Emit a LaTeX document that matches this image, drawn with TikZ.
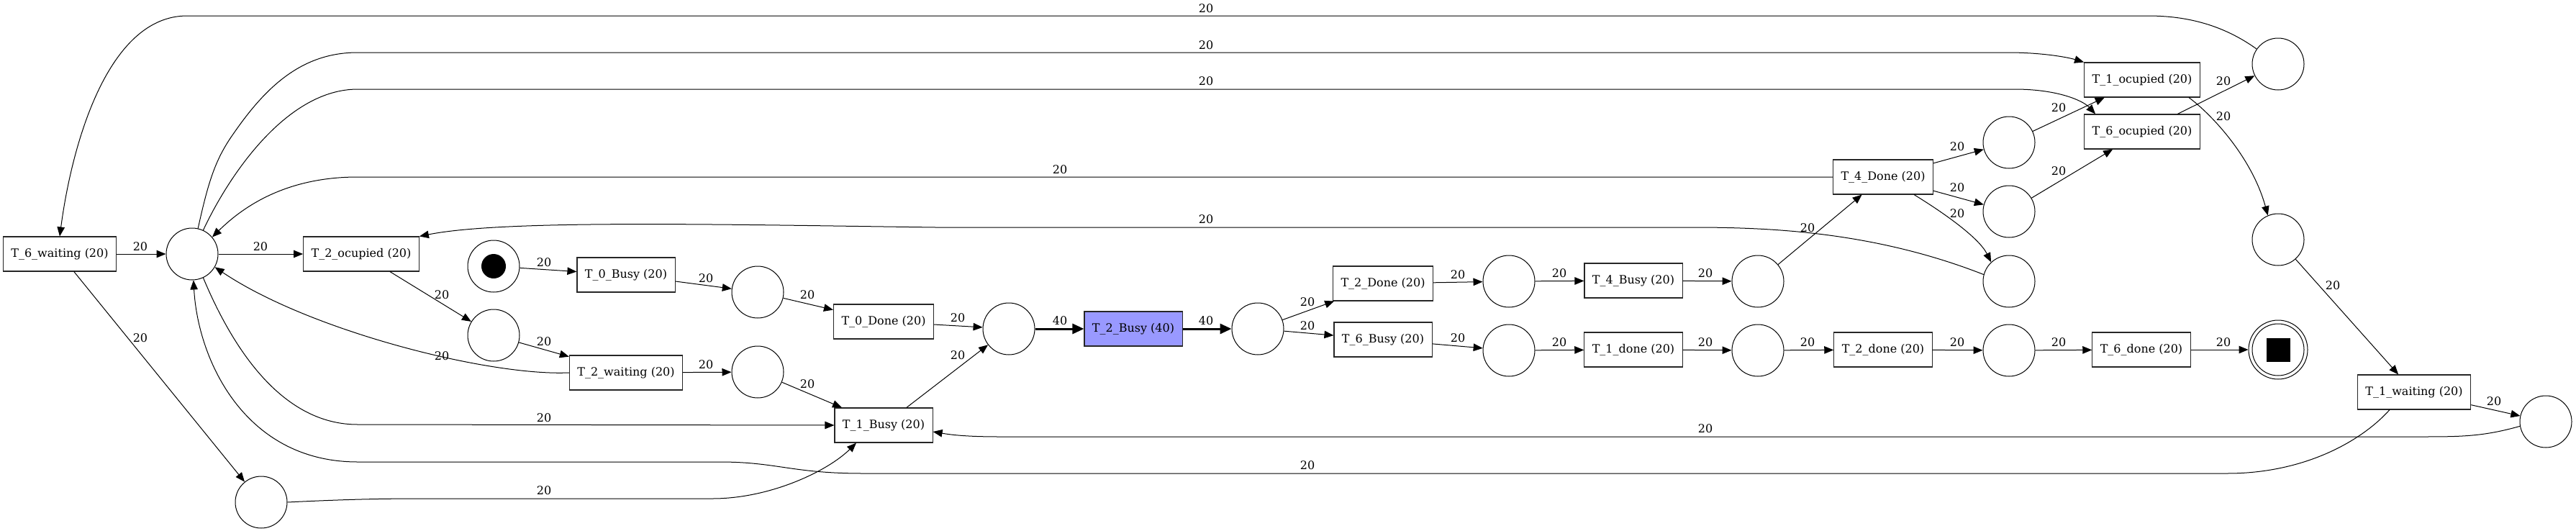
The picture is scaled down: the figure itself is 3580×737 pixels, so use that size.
\documentclass[tikz,border=0pt]{standalone}
\usepackage{fontspec}
\setmainfont{DejaVu Serif}
\usetikzlibrary{arrows.meta,calc}
\definecolor{tbusy}{HTML}{9999FF}
\begin{document}
\begin{tikzpicture}[x=1pt,y=-1pt,
  every node/.style={font=\fontsize{16}{19}\selectfont},
  tr/.style={draw=black!85, rectangle, line width=1.1pt, inner xsep=11pt, inner ysep=0pt, minimum height=48pt},
  pl/.style={draw, circle, line width=1pt, minimum size=72pt, inner sep=0pt},
  edgeline/.style={-{Triangle[length=13pt,width=10.5pt]}, line width=1pt},
  heavy/.style={-{Triangle[length=16pt,width=14pt]}, line width=3pt},
  lbl/.style={inner sep=0pt}
]
\useasboundingbox (0,0) rectangle (3580,737);
% transitions
\node[tr] (t6w) at (83,353) {T\_6\_waiting (20)};
\node[tr] (t2oc) at (502,353) {T\_2\_ocupied (20)};
\node[tr] (t0b) at (870,382) {T\_0\_Busy (20)};
\node[tr] (t2w) at (870,518) {T\_2\_waiting (20)};
\node[tr] (t0d) at (1228,447) {T\_0\_Done (20)};
\node[tr] (t1b) at (1228,591) {T\_1\_Busy (20)};
\node[tr, fill=tbusy] (t2b) at (1575,457) {T\_2\_Busy (40)};
\node[tr] (t2D) at (1922,394) {T\_2\_Done (20)};
\node[tr] (t6b) at (1922,472) {T\_6\_Busy (20)};
\node[tr] (t4b) at (2270,390) {T\_4\_Busy (20)};
\node[tr] (t1d) at (2270,486) {T\_1\_done (20)};
\node[tr] (t4D) at (2617,246) {T\_4\_Done (20)};
\node[tr] (t2d) at (2617,486) {T\_2\_done (20)};
\node[tr] (t1oc) at (2977,111) {T\_1\_ocupied (20)};
\node[tr] (t6oc) at (2977,183) {T\_6\_ocupied (20)};
\node[tr] (t6d) at (2976,486) {T\_6\_done (20)};
\node[tr] (t1w) at (3355,545) {T\_1\_waiting (20)};
% places
\node[pl] (hub) at (267,353) {};
\node[pl] (init) at (686,370) {};
\fill (init.center) circle[radius=17pt];
\node[pl] (p0) at (1053,406) {};
\node[pl] (p2oc) at (686,466) {};
\node[pl] (p2w) at (1053,517) {};
\node[pl] (pbot) at (363,698) {};
\node[pl] (pA) at (1402,457) {};
\node[pl] (pB) at (1748,457) {};
\node[pl] (pD) at (2097,391) {};
\node[pl] (p6b) at (2097,487) {};
\node[pl] (p4b) at (2443,391) {};
\node[pl] (p1d) at (2443,487) {};
\node[pl] (pa) at (2792,198) {};
\node[pl] (pb) at (2792,294) {};
\node[pl] (pc) at (2792,391) {};
\node[pl] (p2d) at (2792,487) {};
\node[pl] (ptr) at (3166,89) {};
\node[pl] (prm) at (3166,333) {};
\node[draw, circle, line width=1pt, minimum size=82pt, inner sep=0pt] (fin) at (3166,486) {};
\node[pl] (finin) at (fin.center) {};
\node[fill=black, minimum size=33pt, inner sep=0pt] (fintok) at (fin.center) {};
\node[pl] (pfr) at (3538,586) {};
% straight arcs
\draw[edgeline] (t6w) -- (hub) node[lbl] at (195,343) {20};
\draw[edgeline] (hub) -- (t2oc) node[lbl] at (362,343) {20};
\draw[edgeline] (t2oc) -- (p2oc) node[lbl] at (614,410) {20};
\draw[edgeline] (p2oc) -- (t2w) node[lbl] at (756,475) {20};
\draw[edgeline] (t2w) -- (p2w) node[lbl] at (981,507) {20};
\draw[edgeline] (p2w) -- (t1b) node[lbl] at (1122,534) {20};
\draw[edgeline] (init) -- (t0b) node[lbl] at (756,365) {20};
\draw[edgeline] (t0b) -- (p0) node[lbl] at (981,387) {20};
\draw[edgeline] (p0) -- (t0d) node[lbl] at (1122,410) {20};
\draw[edgeline] (t0d) -- (pA) node[lbl] at (1331,442) {20};
\draw[edgeline] (t1b) -- (pA) node[lbl] at (1331,494) {20};
\draw[heavy] (pA) -- (t2b) node[lbl] at (1473,446) {40};
\draw[heavy] (t2b) -- (pB) node[lbl] at (1676,446) {40};
\draw[edgeline] (pB) -- (t2D) node[lbl] at (1817,420) {20};
\draw[edgeline] (pB) -- (t6b) node[lbl] at (1817,453) {20};
\draw[edgeline] (t2D) -- (pD) node[lbl] at (2026,382) {20};
\draw[edgeline] (t6b) -- (p6b) node[lbl] at (2026,470) {20};
\draw[edgeline] (pD) -- (t4b) node[lbl] at (2167,380) {20};
\draw[edgeline] (p6b) -- (t1d) node[lbl] at (2167,476) {20};
\draw[edgeline] (t4b) -- (p4b) node[lbl] at (2370,380) {20};
\draw[edgeline] (t1d) -- (p1d) node[lbl] at (2370,476) {20};
\draw[edgeline] (p4b) -- (t4D) node[lbl] at (2512,317) {20};
\draw[edgeline] (p1d) -- (t2d) node[lbl] at (2512,476) {20};
\draw[edgeline] (t4D) -- (pa) node[lbl] at (2720,204) {20};
\draw[edgeline] (t4D) -- (pb) node[lbl] at (2720,261) {20};
\draw[edgeline] (t2d) -- (p2d) node[lbl] at (2720,476) {20};
\draw[edgeline] (pa) -- (t1oc) node[lbl] at (2861,150) {20};
\draw[edgeline] (pb) -- (t6oc) node[lbl] at (2861,238) {20};
\draw[edgeline] (p2d) -- (t6d) node[lbl] at (2861,476) {20};
\draw[edgeline] (t6oc) -- (ptr) node[lbl] at (3090,113) {20};
\draw[edgeline] (t6d) -- (fin) node[lbl] at (3090,476) {20};
\draw[edgeline] (prm) -- (t1w) node[lbl] at (3242,397) {20};
\draw[edgeline] (t1w) -- (pfr) node[lbl] at (3466,558) {20};
\draw[edgeline] (t6w) -- (pbot) node[lbl] at (195,470) {20};
% curved arcs
\draw[edgeline] (t2w.west) .. controls (680,523) and (430,460) .. (hub.-30)
  node[lbl] at (614,495) {20};
\draw[edgeline] (pc.165) .. controls (2600,320) and (2450,316) .. (2350,316) -- (1300,316)
  .. controls (1000,312) and (700,305) .. (t2oc.north east)
  node[lbl] at (1676,305) {20};
\draw[edgeline] (t4D.west) -- (497,246) .. controls (400,246) and (340,285) .. (hub.40)
  node[lbl] at (1473,236) {20};
\draw[edgeline] (hub.77) .. controls (290,250) and (300,220) .. (325,185)
  .. controls (370,120) and (420,73) .. (497,73) -- (2790,73)
  .. controls (2840,73) and (2875,80) .. (t1oc.north west)
  node[lbl] at (1676,63) {20};
\draw[edgeline] (hub.65) .. controls (320,240) and (400,124) .. (497,124) -- (2800,124)
  .. controls (2860,124) and (2895,140) .. ($(t6oc.north west)+(16,0)$)
  node[lbl] at (1676,113) {20};
\draw[edgeline] (ptr.145) .. controls (3090,35) and (3040,22) .. (2985,22) -- (260,22)
  .. controls (150,22) and (100,200) .. (t6w.north)
  node[lbl] at (1676,12) {20};
\draw[edgeline] ($(t1oc.south east)+(-16,0)$) .. controls (3075,160) and (3130,220) .. (prm.113)
  node[lbl] at (3090,162) {20};
\draw[edgeline] (pfr.190) .. controls (3450,607) and (3420,607) .. (3360,607) -- (1390,607)
  .. controls (1340,607) and (1320,604) .. ($(t1b.east)+(0,9)$)
  node[lbl] at (2370,596) {20};
\draw[edgeline] ($(t1w.south)+(-34,0)$) .. controls (3280,615) and (3200,658) .. (3095,658)
  -- (1200,658) .. controls (1100,658) and (1080,642) .. (1000,642) -- (497,642)
  .. controls (340,642) and (275,500) .. (hub.273)
  node[lbl] at (1817,647) {20};
\draw[edgeline] (hub.295) .. controls (330,500) and (400,590) .. (497,590) -- (t1b.west)
  node[lbl] at (756,581) {20};
\draw[edgeline] (pbot.east) .. controls (500,693) and (550,693) .. (600,693) -- (990,693)
  .. controls (1070,693) and (1150,655) .. ($(t1b.south)+(-38,0)$)
  node[lbl] at (756,682) {20};
\draw[edgeline] ($(t4D.south east)+(-27,0)$) .. controls (2700,295) and (2750,330) .. (pc.133)
  node[lbl] at (2720,297) {20};
\end{tikzpicture}
\end{document}
